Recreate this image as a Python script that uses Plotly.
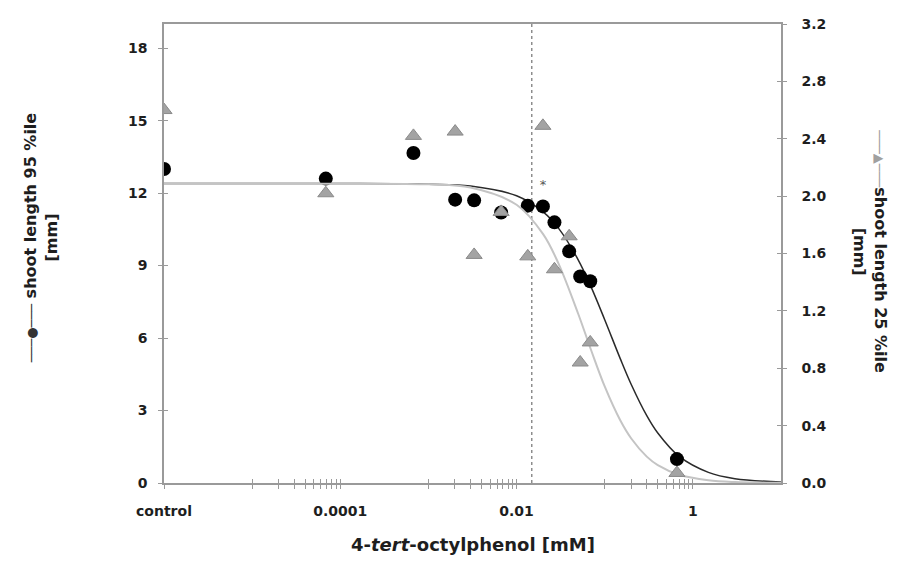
import plotly.graph_objects as go

# ---- data ----
conc = [1e-6, 6.85e-5, 6.76e-4, 2.01e-3, 3.30e-3, 6.68e-3, 1.34e-2, 1.99e-2,
        2.69e-2, 3.95e-2, 5.27e-2, 6.85e-2, 0.66]
p95 = [13.0, 12.6, 13.66, 11.73, 11.70, 11.2, 11.48, 11.45, 10.79, 9.59, 8.55, 8.35, 0.99]
p25 = [2.60, 2.02, 2.42, 2.45, 1.59, 1.89, 1.58, 2.49, 1.49, 1.72, 0.84, 0.98, 0.07]

fit_x = [1e-6, 1e-4, 1e-3, 3e-3, 1e-2, 2e-2, 3e-2, 5e-2, 0.07, 0.1, 0.15, 0.2,
         0.3, 0.4, 0.7, 1.5, 3, 10]
fit95 = [12.4, 12.4, 12.37, 12.29, 11.89, 11.22, 10.54, 9.24, 8.12, 6.76, 5.15, 4.08,
         2.79, 2.07, 1.10, 0.44, 0.18, 0.04]
fit25 = [2.087, 2.087, 2.082, 2.06, 1.94, 1.735, 1.528, 1.18, 0.927, 0.673, 0.437, 0.31,
         0.184, 0.125, 0.0575, 0.0195, 0.007, 0.001]

marker_conc = 0.0149      # vertical dotted reference line
star_pos = (0.0199, 12.3)

x_major = [1e-6, 1e-4, 1e-2, 1]
x_major_text = ["control", "0.0001", "0.01", "1"]
x_minor = [k * 10 ** e for e in (-5, -3, -1) for k in range(1, 10)]
yl_ticks = [0, 3, 6, 9, 12, 15, 18]
yr_ticks = [0, 0.4, 0.8, 1.2, 1.6, 2.0, 2.4, 2.8, 3.2]

AX = "#9a9a9a"
TXT = "#1e1e1e"
FONT = "DejaVu Sans"

fig = go.Figure()

# reference line and star
fig.add_trace(go.Scatter(x=[marker_conc, marker_conc], y=[0, 19], mode="lines",
                         line=dict(color="#555", width=1, dash="dot"),
                         showlegend=False, hoverinfo="skip"))
fig.add_trace(go.Scatter(x=[star_pos[0]], y=[star_pos[1]], mode="text", text=["*"],
                         textfont=dict(family=FONT, size=13, color="#555555"),
                         showlegend=False, hoverinfo="skip"))

# fitted curves
fig.add_trace(go.Scatter(x=fit_x, y=fit25, yaxis="y2", mode="lines",
                         line=dict(color="#c4c4c4", width=2, shape="spline"),
                         showlegend=False))
fig.add_trace(go.Scatter(x=fit_x, y=fit95, mode="lines",
                         line=dict(color="#2a2a2a", width=1.5, shape="spline"),
                         showlegend=False))

# data points
fig.add_trace(go.Scatter(x=conc, y=p95, mode="markers",
                         marker=dict(symbol="circle", size=14, color="#000"),
                         showlegend=False))
fig.add_trace(go.Scatter(x=conc, y=p25, yaxis="y2", mode="markers",
                         marker=dict(symbol="triangle-up", size=14, color="#a3a3a3",
                                     line=dict(color="#8a8a8a", width=1)),
                         showlegend=False))

# dummy traces to materialise helper tick axes
fig.add_trace(go.Scatter(x=[1e-6], y=[0], xaxis="x2", yaxis="y3", mode="markers",
                         marker=dict(opacity=0), showlegend=False, hoverinfo="skip"))
fig.add_trace(go.Scatter(x=[1e-6], y=[0], xaxis="x2", yaxis="y4", mode="markers",
                         marker=dict(opacity=0), showlegend=False, hoverinfo="skip"))

fig.update_layout(
    width=923, height=581,
    margin=dict(l=164, r=142, t=24, b=98),
    paper_bgcolor="white", plot_bgcolor="white",
    font=dict(family=FONT, color=TXT),
    xaxis=dict(type="log", range=[-6, 1],
               tickvals=x_major + x_minor,
               ticktext=x_major_text + [""] * len(x_minor),
               ticks="outside", ticklen=4, tickwidth=1, tickcolor=AX,
               showline=True, linecolor=AX, linewidth=1.5, mirror=True,
               showgrid=False, zeroline=False,
               tickfont=dict(family=FONT, size=14, color=TXT, weight="bold"),
               ticklabelstandoff=10),
    xaxis2=dict(type="log", range=[-6, 1], overlaying="x", anchor="y3",
                tickvals=x_major + x_minor, ticks="inside", ticklen=4, tickwidth=1,
                tickcolor=AX, showticklabels=False, showline=False,
                showgrid=False, zeroline=False),
    yaxis=dict(range=[0, 19], tickvals=yl_ticks,
               ticks="outside", ticklen=4, tickwidth=1, tickcolor=AX,
               showline=True, linecolor=AX, linewidth=1.5,
               showgrid=False, zeroline=False,
               tickfont=dict(family=FONT, size=14, color=TXT, weight="bold"),
               ticklabelstandoff=8),
    yaxis2=dict(range=[0, 3.2], tickvals=yr_ticks, tickformat=".1f",
                overlaying="y", side="right", anchor="x",
                ticks="outside", ticklen=4, tickwidth=1, tickcolor=AX,
                showline=True, linecolor=AX, linewidth=1.5,
                showgrid=False, zeroline=False,
                tickfont=dict(family=FONT, size=14, color=TXT, weight="bold"),
                ticklabelstandoff=12),
    yaxis3=dict(range=[0, 19], tickvals=yl_ticks, overlaying="y", anchor="x2",
                ticks="inside", ticklen=4, tickwidth=1, tickcolor=AX,
                showticklabels=False, showline=False, showgrid=False, zeroline=False),
    yaxis4=dict(range=[0, 3.2], tickvals=yr_ticks, overlaying="y", side="right",
                anchor="x2", ticks="inside", ticklen=4, tickwidth=1, tickcolor=AX,
                showticklabels=False, showline=False, showgrid=False, zeroline=False),
    annotations=[
        dict(text="4-<i>tert</i>-octylphenol [mM]", xref="paper", yref="paper",
             x=0.5, y=-0.135, xanchor="center", yanchor="middle", showarrow=False,
             font=dict(family=FONT, size=18, color=TXT, weight="bold")),
        dict(text="<span style='color:#333;font-size:13px'>───●───</span> shoot length 95 %ile<br>[mm]",
             xref="paper", yref="paper", x=-0.198, y=0.535, textangle=-90,
             xanchor="center", yanchor="middle", showarrow=False,
             font=dict(family=FONT, size=16, color=TXT, weight="bold")),
        dict(text="<span style='color:#a0a0a0;font-size:13px'>───▲───</span>shoot length 25 %ile<br>[mm]",
             xref="paper", yref="paper", x=1.144, y=0.505, textangle=90,
             xanchor="center", yanchor="middle", showarrow=False,
             font=dict(family=FONT, size=16, color=TXT, weight="bold")),
    ],
)

fig.write_html("out.html")
